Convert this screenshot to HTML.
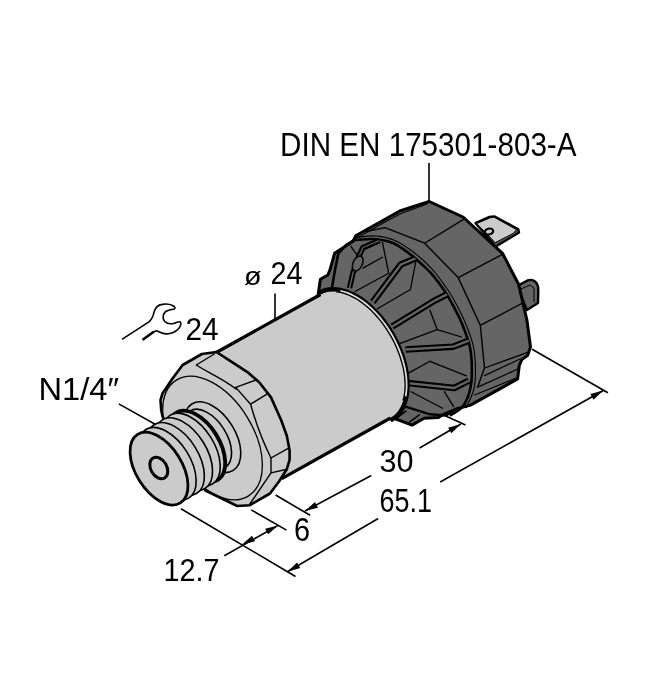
<!DOCTYPE html>
<html><head><meta charset="utf-8"><style>
html,body{margin:0;padding:0;background:#fff;}
svg{display:block;filter:grayscale(1);}
text{font-family:"Liberation Sans",sans-serif;fill:#000;}
</style></head><body>
<svg width="653" height="700" viewBox="0 0 653 700">
<rect width="653" height="700" fill="#fff"/>
<line x1="429" y1="163" x2="429" y2="203" stroke="#000" stroke-width="1.6"/>
<line x1="275" y1="293.6" x2="275" y2="328" stroke="#000" stroke-width="1.6"/>
<line x1="118.8" y1="403.9" x2="160" y2="427" stroke="#000" stroke-width="1.6"/>
<line x1="181" y1="508.7" x2="295.5" y2="576.5" stroke="#000" stroke-width="1.6"/>
<line x1="251.2" y1="509.9" x2="286.5" y2="530.1" stroke="#000" stroke-width="1.6"/>
<line x1="275.6" y1="495" x2="310.1" y2="515.3" stroke="#000" stroke-width="1.6"/>
<line x1="532.1" y1="349.2" x2="607.9" y2="392.8" stroke="#000" stroke-width="1.6"/>
<line x1="440.2" y1="413.5" x2="465.5" y2="425" stroke="#000" stroke-width="1.6"/>
<line x1="224.3" y1="555.8" x2="278.1" y2="525.4" stroke="#000" stroke-width="1.6"/>
<polygon points="242,544.6 252.0,535.7 255.0,541.3" fill="#000"/>
<polygon points="278.1,525.4 268.1,534.3 265.1,528.7" fill="#000"/>
<line x1="287.4" y1="571.7" x2="378.2" y2="518.5" stroke="#000" stroke-width="1.6"/>
<line x1="440.2" y1="482" x2="603.3" y2="390.5" stroke="#000" stroke-width="1.6"/>
<polygon points="287.4,571.7 297.0,562.4 300.2,567.9" fill="#000"/>
<polygon points="603.3,390.5 593.5,399.7 590.4,394.1" fill="#000"/>
<line x1="305" y1="511" x2="371.3" y2="475.5" stroke="#000" stroke-width="1.6"/>
<line x1="419.6" y1="448" x2="460.9" y2="424" stroke="#000" stroke-width="1.6"/>
<polygon points="305,511 315.0,502.0 318.0,507.7" fill="#000"/>
<polygon points="460.9,424 451.3,433.3 448.1,427.8" fill="#000"/>
<polygon points="475.4,223.1 489.5,216.8 494.3,216.3 518.3,229.1 519.1,232.5 495.5,246.8 490.0,240.0" fill="#555" stroke="#000" stroke-width="2.2" stroke-linejoin="round" />
<polygon points="476.5,223.6 490.9,217.5 494.3,217.3 516.5,229.6 513.5,233.3 495.1,242.7 489.0,236.0" fill="#cbcbcb" stroke="#000" stroke-width="1.0" stroke-linejoin="round" />
<ellipse cx="489" cy="231.5" rx="4.2" ry="2.9" transform="rotate(-15 489 231.5)" fill="none" stroke="#000" stroke-width="2.2"/>
<path d="M517,286 L527.5,280.5 Q533,278.5 536.5,283 Q538.5,286 538.3,290 L538,303 L526.9,310 Z" fill="#656565" stroke="#000" stroke-width="2.4" stroke-linejoin="round" />
<polyline points="521.0,289.0 530.0,285.0 534.0,288.0 534.0,302.0" fill="none" stroke="#000" stroke-width="1.0" stroke-linejoin="round" stroke-linecap="round"/>
<polygon points="429.2,201.5 463.0,217.0 502.5,253.3 518.6,284.3 526.9,320.0 530.5,347.0 527.7,355.4 521.8,359.6 519.3,365.5 517.6,379.0 470.4,405.1 455.3,409.3 443.5,414.3 438.4,417.5 424.0,418.3 412.1,425.1 391.9,417.5 360.0,400.0 318.2,294.3 320.4,279.3 327.9,275.0 330.0,269.8 334.6,253.3 353.0,241.3 355.7,235.8 399.8,211.0" fill="#656565" stroke="#000" stroke-width="3.0" stroke-linejoin="round" />
<polyline points="427.0,204.0 400.0,214.0 385.0,222.0 357.0,238.0" fill="none" stroke="#000" stroke-width="1.1" stroke-linejoin="round" stroke-linecap="round"/>
<polyline points="366.0,231.5 385.1,227.6 424.6,243.2 458.2,277.6 480.3,325.3 484.5,368.0 478.0,386.0" fill="none" stroke="#000" stroke-width="1.4" stroke-linejoin="round" stroke-linecap="round"/>
<line x1="424.6" y1="243.2" x2="466" y2="217.9" stroke="#000" stroke-width="1.3"/>
<line x1="458.2" y1="277.6" x2="502.5" y2="254.3" stroke="#000" stroke-width="1.3"/>
<line x1="480.3" y1="325.3" x2="522.9" y2="302.9" stroke="#000" stroke-width="1.3"/>
<line x1="484.5" y1="368" x2="528.3" y2="352.2" stroke="#000" stroke-width="1.3"/>
<polyline points="484.5,375.6 520.0,359.0" fill="none" stroke="#000" stroke-width="1.2" stroke-linejoin="round" stroke-linecap="round"/>
<polyline points="477.2,387.4 518.0,369.0" fill="none" stroke="#000" stroke-width="1.2" stroke-linejoin="round" stroke-linecap="round"/>
<polyline points="474.6,395.0 518.0,377.3" fill="none" stroke="#000" stroke-width="1.2" stroke-linejoin="round" stroke-linecap="round"/>
<path d="M353.9,240.0 C357.6,239.9 369.3,238.6 376.0,239.2 C382.7,239.8 388.3,241.0 394.0,243.5 C399.7,246.0 405.4,250.8 410.0,254.2 C414.6,257.6 417.7,260.5 421.5,264.0 C425.3,267.5 429.2,271.0 432.9,275.3 C436.6,279.6 440.9,285.6 443.9,290.0 C446.9,294.4 447.9,295.9 450.9,301.5 C453.9,307.1 458.7,315.8 461.9,323.5 C465.1,331.2 468.3,339.6 470.0,347.6 C471.7,355.6 471.9,364.5 471.9,371.5 C471.9,378.5 471.5,384.0 470.0,389.8 C468.5,395.6 466.1,402.1 462.7,406.4 C459.3,410.7 451.9,414.1 449.8,415.6" fill="none" stroke="#000" stroke-width="2.6" stroke-linejoin="round" />
<path d="M356.0,237.5 C359.3,237.2 369.5,235.5 376.0,236.0 C382.5,236.5 388.9,237.9 395.0,240.5 C401.1,243.1 407.6,248.0 412.5,251.5 C417.4,255.0 420.7,257.9 424.5,261.5 C428.3,265.1 431.8,268.6 435.5,273.0 C439.2,277.4 443.4,283.6 446.5,288.0 C449.6,292.4 450.7,293.8 453.8,299.5 C456.9,305.2 461.7,314.1 465.0,322.0 C468.3,329.9 471.8,338.8 473.5,347.0 C475.2,355.2 475.5,364.2 475.5,371.5 C475.5,378.8 475.1,384.4 473.5,390.5 C471.9,396.6 467.2,405.1 466.0,408.0" fill="none" stroke="#000" stroke-width="1.1" stroke-linejoin="round" />
<polyline points="354.0,240.0 346.0,245.0 338.2,253.9 335.0,270.0 332.0,287.6" fill="none" stroke="#000" stroke-width="2.6" stroke-linejoin="round" stroke-linecap="round"/>
<polyline points="364.3,247.5 379.0,241.0" fill="none" stroke="#000" stroke-width="5" stroke-linejoin="round" stroke-linecap="butt"/>
<polyline points="364.3,247.5 379.0,241.0" fill="none" stroke="#656565" stroke-width="0.7999999999999998" stroke-linejoin="round" stroke-linecap="butt"/>
<polyline points="372.8,302.0 400.8,264.5 415.4,258.5" fill="none" stroke="#000" stroke-width="6.5" stroke-linejoin="round" stroke-linecap="butt"/>
<polyline points="372.8,302.0 400.8,264.5 415.4,258.5" fill="none" stroke="#656565" stroke-width="2.3" stroke-linejoin="round" stroke-linecap="butt"/>
<polyline points="392.3,326.5 434.8,300.5 447.0,294.4" fill="none" stroke="#000" stroke-width="6.5" stroke-linejoin="round" stroke-linecap="butt"/>
<polyline points="392.3,326.5 434.8,300.5 447.0,294.4" fill="none" stroke="#656565" stroke-width="2.3" stroke-linejoin="round" stroke-linecap="butt"/>
<polyline points="405.6,349.5 453.0,346.7 468.8,340.6" fill="none" stroke="#000" stroke-width="6.5" stroke-linejoin="round" stroke-linecap="butt"/>
<polyline points="405.6,349.5 453.0,346.7 468.8,340.6" fill="none" stroke="#656565" stroke-width="2.3" stroke-linejoin="round" stroke-linecap="butt"/>
<polyline points="408.0,383.1 454.2,388.0 468.8,380.7" fill="none" stroke="#000" stroke-width="6.5" stroke-linejoin="round" stroke-linecap="butt"/>
<polyline points="408.0,383.1 454.2,388.0 468.8,380.7" fill="none" stroke="#656565" stroke-width="2.3" stroke-linejoin="round" stroke-linecap="butt"/>
<polyline points="349.5,288.0 353.0,273.0 359.0,256.0 363.0,247.5 379.5,240.5" fill="none" stroke="#000" stroke-width="5.5" stroke-linejoin="round" stroke-linecap="butt"/>
<polyline points="349.5,288.0 353.0,273.0 359.0,256.0 363.0,247.5 379.5,240.5" fill="none" stroke="#656565" stroke-width="1.2999999999999998" stroke-linejoin="round" stroke-linecap="butt"/>
<ellipse cx="357.7" cy="263.5" rx="4.6" ry="8" transform="rotate(25 357.7 263.5)" fill="#656565" stroke="#000" stroke-width="1.5"/>
<polyline points="350.8,246.2 357.2,255.4" fill="none" stroke="#000" stroke-width="1.3" stroke-linejoin="round" stroke-linecap="round"/>
<polyline points="362.9,268.1 382.4,257.2" fill="none" stroke="#000" stroke-width="1.3" stroke-linejoin="round" stroke-linecap="round"/>
<polyline points="382.4,242.2 388.7,273.2 355.0,291.5" fill="none" stroke="#000" stroke-width="1.3" stroke-linejoin="round" stroke-linecap="round"/>
<polyline points="415.9,261.0 410.4,289.5 377.4,308.8" fill="none" stroke="#000" stroke-width="1.3" stroke-linejoin="round" stroke-linecap="round"/>
<polyline points="430.0,310.2 437.2,329.7 461.5,337.0" fill="none" stroke="#000" stroke-width="1.3" stroke-linejoin="round" stroke-linecap="round"/>
<polyline points="437.2,329.7 398.3,344.2" fill="none" stroke="#000" stroke-width="1.3" stroke-linejoin="round" stroke-linecap="round"/>
<polyline points="430.0,361.3 466.4,375.8" fill="none" stroke="#000" stroke-width="1.3" stroke-linejoin="round" stroke-linecap="round"/>
<polyline points="430.0,361.3 408.0,373.4" fill="none" stroke="#000" stroke-width="1.3" stroke-linejoin="round" stroke-linecap="round"/>
<polyline points="411.2,391.7 442.5,408.2" fill="none" stroke="#000" stroke-width="1.3" stroke-linejoin="round" stroke-linecap="round"/>
<polyline points="444.3,391.7 453.5,406.4" fill="none" stroke="#000" stroke-width="1.3" stroke-linejoin="round" stroke-linecap="round"/>
<polyline points="398.0,409.0 406.4,406.8 430.0,414.3 446.0,415.5 452.0,412.0" fill="none" stroke="#000" stroke-width="2.4" stroke-linejoin="round" stroke-linecap="round"/>
<polyline points="397.3,417.5 405.9,411.1" fill="none" stroke="#000" stroke-width="1.6" stroke-linejoin="round" stroke-linecap="round"/>
<polyline points="409.7,421.8 419.3,414.8" fill="none" stroke="#000" stroke-width="1.6" stroke-linejoin="round" stroke-linecap="round"/>
<path d="M214.5,353.5 L320.5,294.5 L323.4,293.1 L326.5,292.1 L329.8,291.5 L333.2,291.3 L336.8,291.4 L340.5,292.0 L344.3,293.0 L348.1,294.4 L352.0,296.2 L356.0,298.3 L359.9,300.8 L363.8,303.6 L367.6,306.7 L371.4,310.2 L375.1,313.9 L378.6,317.9 L382.0,322.2 L385.3,326.6 L388.3,331.2 L391.2,336.0 L393.8,340.9 L396.2,345.9 L398.4,351.0 L400.2,356.1 L401.9,361.2 L403.2,366.3 L404.2,371.3 L404.9,376.2 L405.4,381.0 L405.5,385.6 L405.3,390.1 L404.8,394.3 L404.0,398.3 L402.9,402.1 L401.5,405.6 L399.8,408.7 L397.9,411.6 L395.7,414.1 L393.2,416.2 L390.5,418.0 L281.8,478.7 Z" fill="#cbcbcb" stroke="none" stroke-width="0" stroke-linejoin="round" />
<path d="M320.5,294.5 L319.0,291.9 L322.1,290.4 L325.4,289.3 L328.9,288.6 L332.6,288.3 L336.4,288.5 L340.4,289.0 L344.4,290.0 L348.5,291.4 L352.6,293.2 L356.8,295.4 L360.9,297.9 L365.0,300.9 L369.1,304.1 L373.0,307.7 L376.9,311.6 L380.6,315.7 L384.2,320.1 L387.6,324.7 L390.8,329.6 L393.8,334.5 L396.5,339.7 L399.0,344.9 L401.2,350.2 L403.2,355.5 L404.8,360.8 L406.2,366.1 L407.2,371.4 L407.9,376.5 L408.3,381.6 L408.4,386.4 L408.1,391.1 L407.5,395.6 L406.6,399.8 L405.4,403.8 L403.9,407.4 L402.0,410.8 L399.9,413.8 L397.5,416.4 L394.9,418.7 L392.0,420.6 L390.5,418.0" fill="none" stroke="#000" stroke-width="2.7" stroke-linejoin="round" />
<path d="M319.8,293.4 L320.4,293.0 L321.0,292.7 L321.6,292.4 L322.2,292.2 L322.8,291.9 L323.5,291.7 L324.1,291.4 L324.7,291.2 L325.4,291.0 L326.0,290.9 L326.7,290.7 L327.4,290.6 L328.0,290.4 L328.7,290.3 L329.4,290.2 L330.1,290.1 L330.8,290.1 L331.5,290.0 L332.2,290.0 L333.0,290.0 L333.7,290.0 L334.4,290.0 L335.2,290.0 L335.9,290.1 L336.6,290.2 L337.4,290.2 L338.1,290.3 L338.9,290.5 L339.7,290.6 L340.4,290.7 L341.2,290.9 L342.0,291.1 L342.8,291.3 L343.5,291.5 L344.3,291.7 L345.1,292.0 L345.9,292.2 L346.7,292.5 L347.5,292.8 L348.3,293.1" fill="none" stroke="#000" stroke-width="2.8" stroke-linejoin="round" />
<path d="M340.4,290.9 L343.0,291.6 L345.7,292.4 L348.4,293.3 L351.0,294.5 L353.7,295.8 L356.5,297.3 L359.2,299.0 L361.8,300.8 L364.5,302.8 L367.2,304.9 L369.8,307.2 L372.4,309.6 L374.9,312.2 L377.4,314.9 L379.8,317.6 L382.1,320.5 L384.4,323.5 L386.6,326.6 L388.7,329.8 L390.7,333.0 L392.6,336.3 L394.4,339.7 L396.1,343.1 L397.7,346.6 L399.2,350.0 L400.5,353.5 L401.7,357.0 L402.8,360.5 L403.7,364.0 L404.6,367.5 L405.2,370.9 L405.8,374.3 L406.2,377.7 L406.4,380.9 L406.5,384.2 L406.5,387.3 L406.3,390.3 L406.0,393.3 L405.6,396.1 L405.0,398.9" fill="none" stroke="#d9d9d9" stroke-width="2.0" stroke-linejoin="round" />
<path d="M405.7,396.4 L405.5,397.2 L405.4,397.9 L405.2,398.7 L405.0,399.5 L404.8,400.2 L404.6,401.0 L404.4,401.7 L404.1,402.4 L403.9,403.1 L403.6,403.8 L403.3,404.5 L403.1,405.2 L402.8,405.8 L402.5,406.5 L402.2,407.1 L401.8,407.8 L401.5,408.4 L401.2,409.0 L400.8,409.6 L400.4,410.2 L400.1,410.7 L399.7,411.3 L399.3,411.8 L398.9,412.4 L398.5,412.9 L398.0,413.4 L397.6,413.9 L397.2,414.4 L396.7,414.9 L396.3,415.3 L395.8,415.8 L395.3,416.2 L394.8,416.6 L394.3,417.0 L393.8,417.4 L393.3,417.8 L392.8,418.1 L392.2,418.5 L391.7,418.8 L391.2,419.1" fill="none" stroke="#000" stroke-width="2.8" stroke-linejoin="round" />
<path d="M336.1,291.8 L338.7,292.1 L341.4,292.6 L344.1,293.4 L346.9,294.3 L349.7,295.5 L352.4,296.8 L355.3,298.3 L358.1,300.0 L360.9,301.9 L363.6,304.0 L366.4,306.2 L369.1,308.6 L371.8,311.1 L374.4,313.8 L377.0,316.7 L379.5,319.6 L381.9,322.7 L384.2,325.9 L386.5,329.1 L388.6,332.5 L390.6,335.9 L392.6,339.4 L394.4,343.0 L396.1,346.6 L397.6,350.2 L399.0,353.9 L400.3,357.5 L401.4,361.2 L402.4,364.8 L403.3,368.4 L403.9,372.0 L404.5,375.5 L404.8,379.0 L405.0,382.4 L405.1,385.7 L405.0,388.9 L404.7,392.0 L404.3,395.0 L403.7,397.8 L403.0,400.5" fill="none" stroke="#000" stroke-width="1.3" stroke-linejoin="round" />
<path d="M214.5,353.5 L320.5,294.5" fill="none" stroke="#000" stroke-width="3.2" stroke-linejoin="round" />
<path d="M390.5,418.0 L281.8,478.7" fill="none" stroke="#000" stroke-width="3.2" stroke-linejoin="round" />
<polygon points="216.5,352.0 201.9,354.0 182.6,365.0 172.9,378.1 162.6,393.2 160.5,400.1 161.2,409.8 162.6,416.7 205.5,490.5 237.2,506.0 249.5,505.3 270.0,493.5 279.0,481.5 286.8,469.2 289.6,459.9 289.6,450.6 286.8,435.7 281.1,420.0 271.0,397.4 259.2,382.2 247.4,372.1 230.5,361.2" fill="#cbcbcb" stroke="#000" stroke-width="2.6" stroke-linejoin="round" />
<polyline points="214.3,354.0 196.3,365.0" fill="none" stroke="#000" stroke-width="1.4" stroke-linejoin="round" stroke-linecap="round"/>
<path d="M196.3,365 C205,371 222,378 236.3,389.1 L235.7,387.4" fill="none" stroke="#000" stroke-width="1.4" stroke-linejoin="round" />
<polyline points="235.7,387.4 256.2,380.0" fill="none" stroke="#000" stroke-width="1.4" stroke-linejoin="round" stroke-linecap="round"/>
<polyline points="235.7,387.4 250.6,404.2 267.3,393.9" fill="none" stroke="#000" stroke-width="1.4" stroke-linejoin="round" stroke-linecap="round"/>
<path d="M250.6,404.2 C255,420 262,440 271,458" fill="none" stroke="#000" stroke-width="1.4" stroke-linejoin="round" />
<polyline points="271.0,458.0 287.7,448.7" fill="none" stroke="#000" stroke-width="1.4" stroke-linejoin="round" stroke-linecap="round"/>
<polyline points="271.0,458.0 271.0,472.9 286.8,469.2" fill="none" stroke="#000" stroke-width="1.4" stroke-linejoin="round" stroke-linecap="round"/>
<polyline points="271.0,472.9 249.5,504.5" fill="none" stroke="#000" stroke-width="1.4" stroke-linejoin="round" stroke-linecap="round"/>
<ellipse cx="212.5" cy="438" rx="68.2" ry="40.5" transform="rotate(58 212.5 438)" fill="none" stroke="#000" stroke-width="1.3"/>
<ellipse cx="212.5" cy="437.2" rx="39.1" ry="22.7" transform="rotate(58 212.5 437.2)" fill="#cbcbcb" stroke="#000" stroke-width="1.6"/>
<ellipse cx="207.5" cy="439.3" rx="33.3" ry="19.3" transform="rotate(58 207.5 439.3)" fill="#cbcbcb" stroke="#000" stroke-width="1.6"/>
<ellipse cx="196.9" cy="446.3" rx="39.5" ry="22.5" transform="rotate(58 196.9 446.3)" fill="#cbcbcb" stroke="#000" stroke-width="3.8"/>
<ellipse cx="191.3" cy="449.6" rx="40.4" ry="23.0" transform="rotate(58 191.3 449.6)" fill="#cbcbcb" stroke="#000" stroke-width="1.6"/>
<ellipse cx="183.6" cy="454.2" rx="40.4" ry="23.0" transform="rotate(58 183.6 454.2)" fill="#cbcbcb" stroke="#000" stroke-width="1.6"/>
<ellipse cx="175.4" cy="459.0" rx="40.4" ry="23.0" transform="rotate(58 175.4 459.0)" fill="#cbcbcb" stroke="#000" stroke-width="1.6"/>
<ellipse cx="167.2" cy="463.8" rx="40.4" ry="23.0" transform="rotate(58 167.2 463.8)" fill="#cbcbcb" stroke="#000" stroke-width="1.6"/>
<ellipse cx="159.0" cy="468.6" rx="40.4" ry="23.0" transform="rotate(58 159.0 468.6)" fill="#cbcbcb" stroke="#000" stroke-width="2.8"/>
<ellipse cx="158.8" cy="468.0" rx="11.5" ry="8.0" transform="rotate(60 158.8 468.0)" fill="#cbcbcb" stroke="#000" stroke-width="3.0"/>
<path d="M122,339.3 L149.3,321.6 C152,319 153.5,315 154.1,311.9 C155,308.5 158,305 162.2,304.4 C166,303.6 171,304 174.3,306.5 C175.5,307.5 175,309 173.5,309.3 C170,309.8 166.5,310.5 164.8,312.4 C162.5,315 162.6,319.5 164.8,321.5 C167,323.8 171,324.2 174.5,323.2 C176.5,322.6 178.5,321.5 180,321.8 C181.5,322.5 181,326 178.5,328.8 C176,331.5 171.5,333.8 166.5,333.9 C163,334 160,332.2 157.3,331 C156,330.6 155,331 153,332.3 L143.4,339.3" fill="none" stroke="#000" stroke-width="1.6" stroke-linejoin="round" />
<path d="M143.4,339.3 L153,332.3" stroke="#000" stroke-width="2.6" stroke-linecap="round"/>
<text x="280.0" y="156.0" font-size="32.73" textLength="296.5" lengthAdjust="spacingAndGlyphs">DIN EN 175301-803-A</text>
<text x="244.0" y="284.5" font-size="26.45" textLength="17.61" lengthAdjust="spacingAndGlyphs">ø</text>
<text x="270.5" y="283.5" font-size="31.26" textLength="32.02" lengthAdjust="spacingAndGlyphs">24</text>
<text x="185.5" y="339.5" font-size="31.26" textLength="33.01" lengthAdjust="spacingAndGlyphs">24</text>
<text x="38.5" y="400.0" font-size="31.54" textLength="80.56" lengthAdjust="spacingAndGlyphs">N1/4″</text>
<text x="379.5" y="471.5" font-size="32.0" textLength="34.07" lengthAdjust="spacingAndGlyphs">30</text>
<text x="379.5" y="511.5" font-size="32.73" textLength="52.52" lengthAdjust="spacingAndGlyphs">65.1</text>
<text x="294.0" y="541.0" font-size="32.73" textLength="16.1" lengthAdjust="spacingAndGlyphs">6</text>
<text x="163.5" y="581.0" font-size="31.26" textLength="56.09" lengthAdjust="spacingAndGlyphs">12.7</text>
</svg></body></html>
